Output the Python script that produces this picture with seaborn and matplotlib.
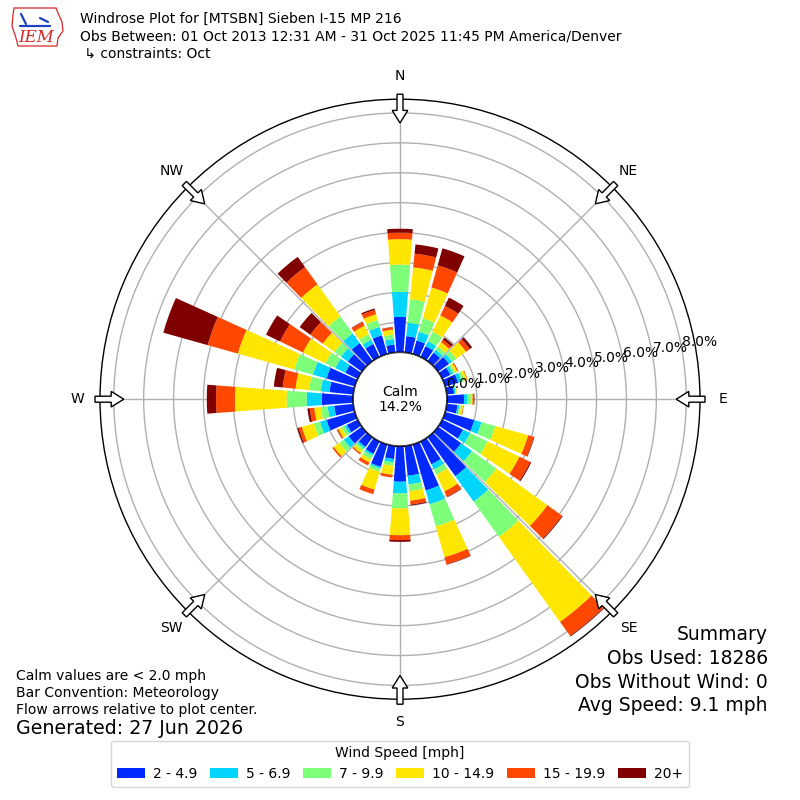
import numpy as np
import matplotlib
matplotlib.use("Agg")
import matplotlib.pyplot as plt
from matplotlib.patches import Circle, FancyArrow, Patch, Polygon
from matplotlib.lines import Line2D
import seaborn as sns

# wind direction bins (deg, meteorological) and percent of obs per speed bin
directions = [0, 10, 20, 30, 40, 50, 60, 70, 80, 90, 100, 110,
              120, 130, 140, 150, 160, 170, 180, 190, 200, 210, 220, 230,
              240, 250, 260, 270, 280, 290, 300, 310, 320, 330, 340, 350]
spd_2_5 = [1.18, 0.55, 0.47, 0.40, 0.35, 0.45, 0.30, 0.45, 0.25, 0.57, 0.36, 1.01,
           0.77, 0.95, 1.60, 0.85, 1.60, 1.00, 1.19, 0.44, 0.78, 0.46, 0.40, 0.55,
           0.40, 0.98, 0.64, 1.05, 0.80, 0.98, 0.46, 0.58, 0.74, 0.48, 0.65, 0.27]
spd_5_7 = [0.84, 0.45, 0.30, 0.18, 0.12, 0.13, 0.10, 0.12, 0.05, 0.12, 0.06, 0.25,
           0.26, 0.45, 1.05, 0.19, 0.48, 0.29, 0.39, 0.11, 0.06, 0.07, 0.07, 0.20,
           0.08, 0.23, 0.22, 0.50, 0.29, 0.47, 0.37, 0.28, 0.40, 0.16, 0.29, 0.18]
spd_7_10 = [0.91, 0.79, 0.47, 0.35, 0.13, 0.17, 0.08, 0.10, 0.03, 0.11, 0.06, 0.48,
            0.65, 1.00, 1.45, 0.19, 0.77, 0.23, 0.50, 0.12, 0.11, 0.13, 0.09, 0.18,
            0.12, 0.21, 0.23, 0.67, 0.39, 0.65, 0.37, 0.27, 0.70, 0.20, 0.24, 0.15]
spd_10_15 = [0.85, 1.07, 1.07, 0.61, 0.18, 0.40, 0.08, 0.09, 0.02, 0.06, 0.07, 1.14,
             1.18, 2.10, 3.50, 0.62, 1.07, 0.32, 0.90, 0.30, 0.62, 0.12, 0.10, 0.23,
             0.12, 0.42, 0.22, 1.73, 0.46, 1.96, 0.83, 0.48, 1.32, 0.32, 0.20, 0.17]
spd_15_20 = [0.22, 0.46, 0.77, 0.35, 0.10, 0.15, 0.04, 0.02, 0.00, 0.04, 0.02, 0.20,
             0.40, 0.60, 0.57, 0.20, 0.24, 0.13, 0.16, 0.09, 0.16, 0.11, 0.05, 0.06,
             0.05, 0.11, 0.15, 0.63, 0.43, 1.05, 0.85, 0.51, 0.71, 0.13, 0.15, 0.08]
spd_20p = [0.13, 0.31, 0.59, 0.31, 0.09, 0.10, 0.00, 0.00, 0.00, 0.02, 0.00, 0.02,
           0.04, 0.03, 0.03, 0.02, 0.02, 0.03, 0.06, 0.00, 0.00, 0.00, 0.00, 0.00,
           0.01, 0.05, 0.08, 0.31, 0.30, 1.54, 0.52, 0.44, 0.42, 0.02, 0.05, 0.01]
speed_labels = ["2 - 4.9", "5 - 6.9", "7 - 9.9", "10 - 14.9", "15 - 19.9", "20+"]
rticks = [0, 1, 2, 3, 4, 5, 6, 7, 8]
compass = ["N", "NE", "E", "SE", "S", "SW", "W", "NW"]
compass_deg = [0, 45, 90, 135, 180, 225, 270, 315]
calm_pct = 14.2

sns.set_theme(style="white")
plt.rcParams["font.family"] = ["DejaVu Sans"]
plt.rcParams["text.color"] = "black"

series = [spd_2_5, spd_5_7, spd_7_10, spd_10_15, spd_15_20, spd_20p]
colors = plt.cm.jet(np.linspace(1 / 6, 1, 6))

fig = plt.figure(figsize=(8, 8), dpi=100)
ax = fig.add_axes([0.125, 0.126, 0.75, 0.75], projection="polar")
ax.set_theta_zero_location("N")
ax.set_theta_direction(-1)

theta = np.radians(directions)
bottom = np.zeros(len(directions))
for vals, col in zip(series, colors):
    ax.bar(theta, vals, width=np.radians(8.6), bottom=bottom, color=col,
           linewidth=0, zorder=3)
    bottom = bottom + np.array(vals)

ax.set_rorigin(-1.57)
ax.set_ylim(0, 8.46)
ax.set_yticks(rticks)
ax.set_yticklabels([])
ax.set_xticks(np.radians(compass_deg))
ax.set_xticklabels([])
ax.grid(True, color="#b0b0b0", linewidth=1)
ax.spines["polar"].set_color("black")
ax.spines["polar"].set_linewidth(1)

# ring labels drawn on top of the bars
for v in rticks:
    ax.text(np.radians(80), v, f"{v:.1f}%", ha="left", va="bottom",
            fontsize=10, zorder=8)

# calm circle in the middle
ax.add_patch(Circle((0.5, 0.5), 47 / 600, transform=ax.transAxes,
                    facecolor="white", edgecolor="black", lw=1, zorder=5))
ax.text(0.5, 0.5, f"Calm\n{calm_pct}%", transform=ax.transAxes, ha="center",
        va="center", fontsize=10, zorder=6, linespacing=1.1)

# compass labels and flow arrows
for lab, deg in zip(compass, compass_deg):
    ax.text(np.radians(deg), 9.23, lab, ha="center", va="center", fontsize=10)
    s, c = np.sin(np.radians(deg)), np.cos(np.radians(deg))
    r0 = 305 / 600
    ax.add_patch(FancyArrow(0.5 + r0 * s, 0.5 + r0 * c, -0.048 * s, -0.048 * c,
                            width=0.01, head_width=0.026, head_length=0.021,
                            length_includes_head=True, transform=ax.transAxes,
                            facecolor="white", edgecolor="black", lw=1,
                            clip_on=False, zorder=7))

# rough IEM logo
def px(x, y):
    return (x / 800, 1 - y / 800)

iowa = [px(14, 8), px(56, 8), px(58, 13), px(62, 22), px(63, 31), px(58, 38),
        px(57, 46), px(18, 46), px(16, 38), px(12, 26), px(13, 15)]
fig.add_artist(Polygon(iowa, closed=True, fill=False, edgecolor="#d62728",
                       lw=0.9, transform=fig.transFigure))
for xs, ys in [((20, 50), (26, 26)), ((21, 26), (14, 24)), ((40, 48), (18, 22))]:
    fig.add_artist(Line2D([px(x, 0)[0] for x in xs], [px(0, y)[1] for y in ys],
                          color="#1f3fbf", lw=1.6, transform=fig.transFigure))
fig.text(*px(36, 38), "IEM", color="#d62728", fontsize=12,
         family="DejaVu Serif", style="italic", ha="center", va="center")

# header
fig.text(0.1, 1 - 19 / 800, "Windrose Plot for [MTSBN] Sieben I-15 MP 216",
         fontsize=10, va="center")
fig.text(0.1, 1 - 37 / 800,
         "Obs Between: 01 Oct 2013 12:31 AM - 31 Oct 2025 11:45 PM America/Denver",
         fontsize=10, va="center")
fig.text(0.1, 1 - 54 / 800, " \u21b3 constraints: Oct", fontsize=10, va="center")

# summary block
summary = ["Summary", "Obs Used: 18286", "Obs Without Wind: 0", "Avg Speed: 9.1 mph"]
for i, line in enumerate(summary):
    fig.text(0.96, 1 - (635 + 23.5 * i) / 800, line, fontsize=13.5,
             ha="right", va="center")

notes = ["Calm values are < 2.0 mph", "Bar Convention: Meteorology",
         "Flow arrows relative to plot center."]
for i, line in enumerate(notes):
    fig.text(0.02, 1 - (676 + 17 * i) / 800, line, fontsize=10, va="center")
fig.text(0.02, 1 - 729 / 800, "Generated: 27 Jun 2026", fontsize=13.7, va="center")

handles = [Patch(facecolor=c, edgecolor="none") for c in colors]
leg = fig.legend(handles, speed_labels, loc="lower center",
                 bbox_to_anchor=(0.5, 0.008), ncol=6, fontsize=10,
                 title="Wind Speed [mph]", title_fontsize=10, frameon=True,
                 handlelength=2.0, handleheight=0.75, handletextpad=0.6,
                 columnspacing=0.9)
leg.get_frame().set_edgecolor("#cccccc")

fig.savefig("out.png", dpi=100)
